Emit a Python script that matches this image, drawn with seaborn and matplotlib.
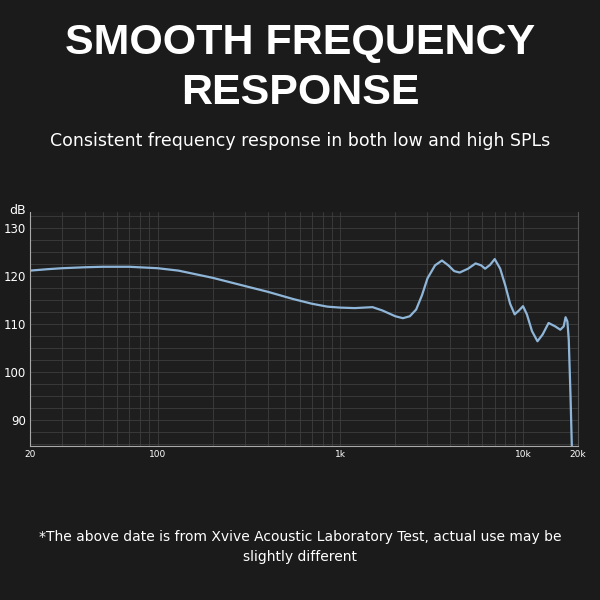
import numpy as np
import matplotlib
matplotlib.use("Agg")
import matplotlib.pyplot as plt
import seaborn as sns
from matplotlib.ticker import FixedLocator, NullFormatter

freq = [20, 25, 30, 40, 50, 70, 100, 130, 200, 300, 400, 550, 700, 850, 1000, 1200, 1500,
        1700, 2000, 2200, 2400, 2600, 2800, 3000, 3300, 3600, 3900, 4200, 4500, 5000, 5500,
        5900, 6200, 6600, 7000, 7500, 8000, 8500, 9000, 9500, 10000, 10500, 11200, 12000,
        12800, 13800, 15000, 16000, 16700, 17100, 17500, 17800, 18200, 18500]
db = [121.1, 121.4, 121.6, 121.8, 121.9, 121.9, 121.6, 121.1, 119.6, 117.9, 116.7, 115.2, 114.2,
      113.6, 113.4, 113.3, 113.5, 112.8, 111.6, 111.2, 111.6, 113.0, 116.0, 119.5, 122.2, 123.2,
      122.2, 121.0, 120.7, 121.5, 122.6, 122.2, 121.5, 122.3, 123.5, 121.5, 118.0, 114.2, 112.0,
      112.8, 113.7, 112.0, 108.5, 106.4, 107.8, 110.2, 109.5, 108.8, 109.5, 111.4, 110.5, 106.7,
      95.0, 84.7]
xticks = [20, 100, 1000, 10000, 20000]
xticklabels = ["20", "100", "1k", "10k", "20k"]
yticks = [90, 100, 110, 120, 130]

sns.set_style("dark")
bg = "#1b1b1b"
fig = plt.figure(figsize=(6, 6), dpi=100, facecolor=bg)
ax = fig.add_axes([30/600, 1-446/600, 548/600, 234/600])
ax.set_facecolor("#1e1e1e")
sns.lineplot(x=freq, y=db, ax=ax, color="#8fb6d8", lw=1.6)
ax.set_xscale("log")
ax.set_xlim(20, 20000)
ax.set_ylim(84.6, 133.3)
minor = []
for d in [10, 100, 1000, 10000]:
    minor += [d * k for k in range(2, 10) if 20 <= d * k <= 20000]
ax.xaxis.set_major_locator(FixedLocator(xticks))
ax.xaxis.set_minor_locator(FixedLocator(minor))
ax.xaxis.set_minor_formatter(NullFormatter())
ax.set_xticklabels(xticklabels)
ax.set_yticks(yticks)
ax.yaxis.set_minor_locator(FixedLocator(list(np.arange(85, 133, 2.5))))
ax.grid(which="both", color="#3e3e3e", lw=0.6)
ax.tick_params(which="both", length=0, colors="white")
ax.tick_params(axis="x", labelsize=6.5, pad=3)
ax.tick_params(axis="y", labelsize=8.5, pad=3)
for s in ax.spines.values():
    s.set_visible(False)
ax.spines["left"].set_visible(True); ax.spines["left"].set_color("#aaaaaa")
ax.spines["bottom"].set_visible(True); ax.spines["bottom"].set_color("#aaaaaa")
ax.spines["right"].set_visible(True); ax.spines["right"].set_color("#555555")
fig.text(18/600, 1-211/600, "dB", color="white", fontsize=9, ha="center", va="center")

fig.text(0.5, 1-43/600, "SMOOTH FREQUENCY", color="white", fontsize=31, fontweight="bold",
         ha="center", va="center", family="Liberation Sans")
fig.text(0.5, 1-93/600, "RESPONSE", color="white", fontsize=31, fontweight="bold",
         ha="center", va="center", family="Liberation Sans")
fig.text(0.5, 1-141/600, "Consistent frequency response in both low and high SPLs", color="white",
         fontsize=12.5, ha="center", va="center")
fig.text(0.5, 1-547/600, "*The above date is from Xvive Acoustic Laboratory Test, actual use may be\nslightly different",
         color="white", fontsize=10, ha="center", va="center", linespacing=1.5)
fig.savefig("out.png", dpi=100, facecolor=bg)
